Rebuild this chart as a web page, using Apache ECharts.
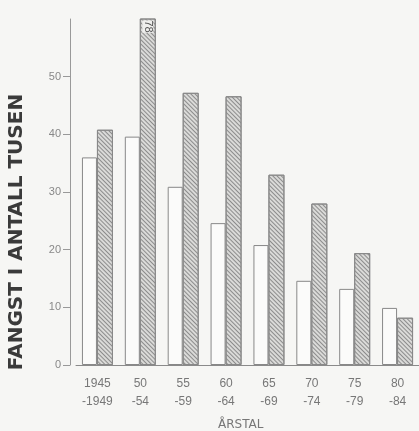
<!DOCTYPE html>
<html><head><meta charset="utf-8">
<script src="https://cdn.jsdelivr.net/npm/echarts@6/dist/echarts.min.js"></script>
<style>html,body{margin:0;padding:0;background:#f6f6f4}#c{width:419px;height:431px}</style>
</head><body><div id="c"></div>
<script>
const categories = ['1945\n-1949','50\n-54','55\n-59','60\n-64','65\n-69','70\n-74','75\n-79','80\n-84'];
const whiteValues = [36, 39.6, 30.9, 24.6, 20.8, 14.6, 13.2, 9.9];
const hatchedValues = [40.8, 78, 47.2, 46.6, 33, 28, 19.4, 8.2];
const yTicks = [0, 10, 20, 30, 40, 50];
const yTitle = 'FANGST I ANTALL TUSEN';
const xTitle = 'ÅRSTAL';

const chart = echarts.init(document.getElementById('c'));
const tickFont = "'Liberation Sans Narrow','Liberation Sans',sans-serif";
chart.setOption({
  backgroundColor: '#f6f6f4',
  animation: false,
  title: {text: xTitle, left: 213, top: 414, textStyle: {fontSize: 12, fontWeight: 'normal', color: '#777', fontFamily: 'DejaVu Sans'}},
  graphic: [{type: 'text', x: 17, y: 232, rotation: Math.PI/2,
    style: {text: yTitle, font: "bold 20px 'DejaVu Sans', sans-serif", fill: '#3a3a3a', textAlign: 'center', textVerticalAlign: 'middle'}}],
  grid: {left: 76, width: 348, top: 19, bottom: 66, containLabel: false},
  xAxis: {type: 'category', data: categories,
    axisLine: {lineStyle: {color: '#8a8a8a', width: 1}},
    axisTick: {show: false},
    axisLabel: {color: '#777', fontSize: 12, lineHeight: 18, margin: 10, fontFamily: tickFont}},
  yAxis: {type: 'value', min: 0, max: 60, offset: 6,
    splitLine: {show: false},
    axisLine: {show: true, lineStyle: {color: '#999', width: 1}},
    axisTick: {show: true, length: 7, customValues: yTicks, lineStyle: {color: '#999'}},
    axisLabel: {customValues: yTicks, color: '#888', fontSize: 11, margin: 9, fontFamily: tickFont}},
  series: [
    {type: 'bar', data: whiteValues, barWidth: 15, barGap: '0%',
      itemStyle: {color: '#fbfbfa', borderColor: '#888', borderWidth: 1}},
    {type: 'bar', data: hatchedValues.map((v, i) => v > 60 ? {value: v, label: {show: true}} : v), barWidth: 16, barGap: '0%', clip: true,
      label: {show: false, formatter: '{c}', position: 'insideTop', rotate: -90, align: 'left', verticalAlign: 'middle', distance: 2, color: '#555', fontSize: 11, fontFamily: tickFont, backgroundColor: '#eeeeec'},
      itemStyle: {color: '#dadad8', borderColor: '#888', borderWidth: 1,
        decal: {symbol: 'rect', symbolSize: 1, dashArrayX: [1, 0], dashArrayY: [1, 1.5], rotation: Math.PI/4, color: '#8c8c8c'}}}
  ]
});
</script></body></html>
